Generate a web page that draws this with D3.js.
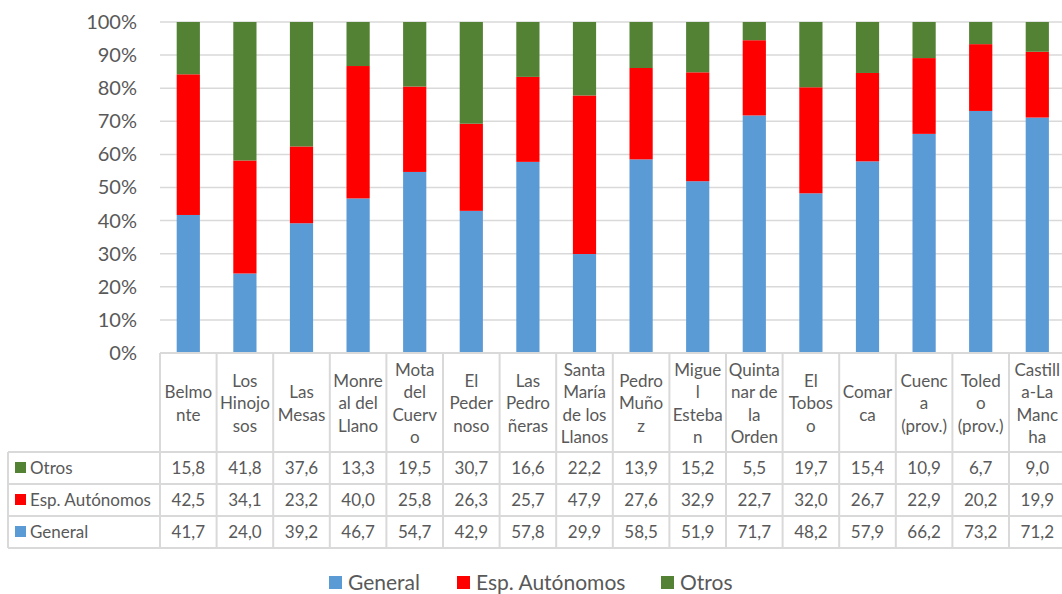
<!DOCTYPE html>
<html>
<head>
<meta charset="utf-8">
<script src="https://cdn.jsdelivr.net/npm/d3@7"></script>
<style>
  body { margin: 0; background: #fff; }
  text { font-family: Lato, "Open Sans", sans-serif; fill: #595959; }
</style>
</head>
<body>
<div id="chart"></div>
<script>
// category labels, already wrapped as in the original table header
var categories = ["Belmonte", "Los Hinojosos", "Las Mesas", "Monreal del Llano", "Mota del Cuervo",
    "El Pedernoso", "Las Pedroñeras", "Santa María de los Llanos", "Pedro Muñoz", "Miguel Esteban",
    "Quintanar de la Orden", "El Toboso", "Comarca", "Cuenca (prov.)", "Toledo (prov.)", "Castilla-La Mancha"];
var headerLines = [["Belmo", "nte"], ["Los", "Hinojo", "sos"], ["Las", "Mesas"], ["Monre", "al del", "Llano"],
    ["Mota", "del", "Cuerv", "o"], ["El", "Peder", "noso"], ["Las", "Pedro", "ñeras"], ["Santa", "María", "de los", "Llanos"],
    ["Pedro", "Muño", "z"], ["Migue", "l", "Esteba", "n"], ["Quinta", "nar de", "la", "Orden"], ["El", "Tobos", "o"],
    ["Comar", "ca"], ["Cuenc", "a", "(prov.)"], ["Toled", "o", "(prov.)"], ["Castill", "a-La", "Manc", "ha"]];

var general = [41.7, 24.0, 39.2, 46.7, 54.7, 42.9, 57.8, 29.9, 58.5, 51.9, 71.7, 48.2, 57.9, 66.2, 73.2, 71.2];
var espAutonomos = [42.5, 34.1, 23.2, 40.0, 25.8, 26.3, 25.7, 47.9, 27.6, 32.9, 22.7, 32.0, 26.7, 22.9, 20.2, 19.9];
var otros = [15.8, 41.8, 37.6, 13.3, 19.5, 30.7, 16.6, 22.2, 13.9, 15.2, 5.5, 19.7, 15.4, 10.9, 6.7, 9.0];

var seriesNames = ["General", "Esp. Autónomos", "Otros"];
var seriesColors = ["#5b9bd5", "#ff0000", "#548235"];
var yTicks = [0, 0.1, 0.2, 0.3, 0.4, 0.5, 0.6, 0.7, 0.8, 0.9, 1];

var width = 1062, height = 594;
var left = 160, step = 56.6, plotTop = 22, plotBottom = 353;
var rowH = 32, tableTop = 452;

var svg = d3.select("#chart").append("svg")
    .attr("width", width)
    .attr("height", height);

var rows = categories.map(function(c, i) {
    return {cat: c, "General": general[i], "Esp. Autónomos": espAutonomos[i], "Otros": otros[i]};
});

var stacked = d3.stack()
    .keys(seriesNames)
    .offset(d3.stackOffsetExpand)(rows);

var x = d3.scaleBand()
    .domain(categories)
    .range([left, left + step * categories.length])
    .padding(0);

var y = d3.scaleLinear()
    .domain([0, 1])
    .range([plotBottom, plotTop]);

var color = d3.scaleOrdinal().domain(seriesNames).range(seriesColors);

// gridlines
svg.append("g")
    .selectAll("line")
    .data(yTicks.slice(1))
    .join("line")
    .attr("x1", left).attr("x2", width)
    .attr("y1", function(d) { return y(d); })
    .attr("y2", function(d) { return y(d); })
    .attr("stroke", "#d9d9d9")
    .attr("stroke-width", 1.5);

// y axis labels
var yAxis = svg.append("g")
    .attr("transform", "translate(" + (left - 23) + ",0)")
    .call(d3.axisLeft(y).tickValues(yTicks).tickFormat(d3.format(".0%")).tickSize(0).tickPadding(0));
yAxis.select(".domain").remove();
yAxis.selectAll("text")
    .style("font-size", "20px")
    .attr("fill", "#595959")
    .style("font-family", "Lato, sans-serif");

// bars
var barW = step * 0.41;
svg.append("g")
    .selectAll("g")
    .data(stacked)
    .join("g")
    .attr("fill", function(d) { return color(d.key); })
    .selectAll("rect")
    .data(function(d) { return d; })
    .join("rect")
    .attr("x", function(d) { return x(d.data.cat) + (x.bandwidth() - barW) / 2; })
    .attr("width", barW)
    .attr("y", function(d) { return y(d[1]); })
    .attr("height", function(d) { return y(d[0]) - y(d[1]); });

// data table
var table = svg.append("g");
var lineColor = "#d9d9d9";
var tableBottom = tableTop + rowH * 3;

// horizontal lines
table.append("line")
    .attr("x1", left).attr("x2", width)
    .attr("y1", plotBottom).attr("y2", plotBottom)
    .attr("stroke", lineColor).attr("stroke-width", 2);
[0, 1, 2, 3].forEach(function(r) {
    table.append("line")
        .attr("x1", 8).attr("x2", width)
        .attr("y1", tableTop + r * rowH).attr("y2", tableTop + r * rowH)
        .attr("stroke", lineColor).attr("stroke-width", 2);
});
// vertical lines
table.selectAll("line.col")
    .data(categories)
    .join("line")
    .attr("class", "col")
    .attr("x1", function(d) { return x(d); })
    .attr("x2", function(d) { return x(d); })
    .attr("y1", plotBottom).attr("y2", tableBottom)
    .attr("stroke", lineColor).attr("stroke-width", 2);
table.append("line")
    .attr("x1", 8).attr("x2", 8)
    .attr("y1", tableTop).attr("y2", tableBottom)
    .attr("stroke", lineColor).attr("stroke-width", 2);

// header labels
var lineH = 22.5, headMid = (plotBottom + tableTop) / 2 + 1;
table.selectAll("text.head")
    .data(categories)
    .join("text")
    .attr("class", "head")
    .attr("text-anchor", "middle")
    .style("font-size", "17px")
    .each(function(d, i) {
        var lines = headerLines[i];
        var t = d3.select(this);
        lines.forEach(function(l, k) {
            t.append("tspan")
                .attr("x", x(d) + x.bandwidth() / 2)
                .attr("y", headMid + (k - (lines.length - 1) / 2) * lineH)
                .attr("dy", "0.35em")
                .text(l);
        });
    });

var fmt = d3.formatLocale({decimal: ",", thousands: ".", grouping: [3], currency: ["", "€"]}).format(".1f");
var tableRows = [
    {name: "Otros", values: otros},
    {name: "Esp. Autónomos", values: espAutonomos},
    {name: "General", values: general}
];

tableRows.forEach(function(r, ri) {
    var cy = tableTop + ri * rowH + rowH / 2;
    table.append("rect")
        .attr("x", 15).attr("y", cy - 6)
        .attr("width", 11).attr("height", 11)
        .attr("fill", color(r.name));
    table.append("text")
        .attr("x", 30).attr("y", cy)
        .attr("dy", "0.35em")
        .style("font-size", "17px")
        .text(r.name);
    table.append("g")
        .selectAll("text")
        .data(r.values)
        .join("text")
        .attr("x", function(d, i) { return x(categories[i]) + x.bandwidth() / 2; })
        .attr("y", cy)
        .attr("dy", "0.35em")
        .attr("text-anchor", "middle")
        .style("font-size", "17px")
        .text(function(d) { return fmt(d); });
});

// legend
var legendX = [329, 457, 661];
var legend = svg.append("g");
seriesNames.forEach(function(s, i) {
    legend.append("rect")
        .attr("x", legendX[i]).attr("y", 576)
        .attr("width", 13).attr("height", 13)
        .attr("fill", color(s));
    legend.append("text")
        .attr("x", legendX[i] + 19).attr("y", 583)
        .attr("dy", "0.35em")
        .style("font-size", "21px")
        .text(s);
});
</script>
</body>
</html>
